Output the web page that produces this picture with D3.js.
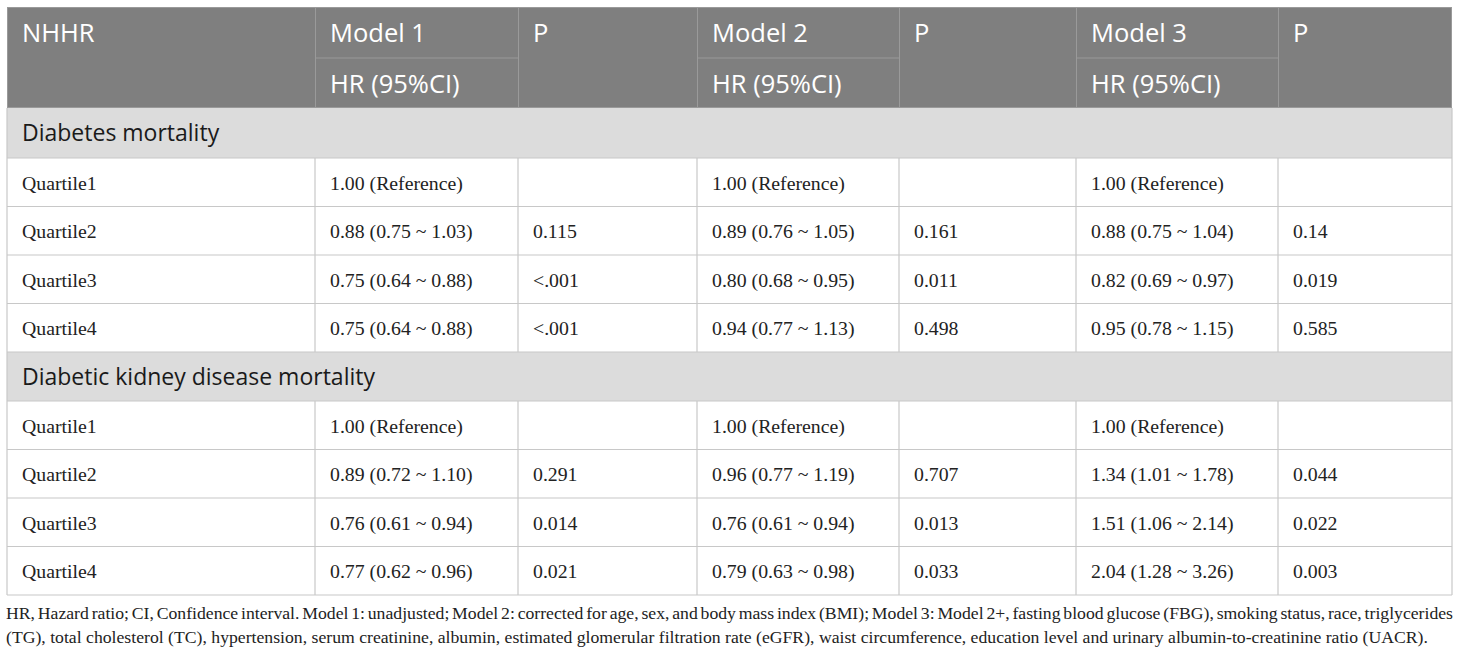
<!DOCTYPE html>
<html>
<head>
<meta charset="utf-8">
<script src="https://cdn.jsdelivr.net/npm/d3@7"></script>
<style>
  html, body { margin: 0; padding: 0; background: #fff; }
  svg { display: block; }
</style>
</head>
<body>
<svg id="canvas" width="1460" height="656"></svg>
<script>
// data
const headTop = ["NHHR", "Model 1", "P", "Model 2", "P", "Model 3", "P"];
const headSub = ["", "HR (95%CI)", "", "HR (95%CI)", "", "HR (95%CI)", ""];
const sections = ["Diabetes mortality", "Diabetic kidney disease mortality"];
const quartiles = ["Quartile1", "Quartile2", "Quartile3", "Quartile4"];

const diabHR = [
  ["1.00 (Reference)", "0.88 (0.75 ~ 1.03)", "0.75 (0.64 ~ 0.88)", "0.75 (0.64 ~ 0.88)"],
  ["1.00 (Reference)", "0.89 (0.76 ~ 1.05)", "0.80 (0.68 ~ 0.95)", "0.94 (0.77 ~ 1.13)"],
  ["1.00 (Reference)", "0.88 (0.75 ~ 1.04)", "0.82 (0.69 ~ 0.97)", "0.95 (0.78 ~ 1.15)"]
];
const diabP = [
  ["", "0.115", "<.001", "<.001"],
  ["", "0.161", "0.011", "0.498"],
  ["", "0.14", "0.019", "0.585"]
];
const dkdHR = [
  ["1.00 (Reference)", "0.89 (0.72 ~ 1.10)", "0.76 (0.61 ~ 0.94)", "0.77 (0.62 ~ 0.96)"],
  ["1.00 (Reference)", "0.96 (0.77 ~ 1.19)", "0.76 (0.61 ~ 0.94)", "0.79 (0.63 ~ 0.98)"],
  ["1.00 (Reference)", "1.34 (1.01 ~ 1.78)", "1.51 (1.06 ~ 2.14)", "2.04 (1.28 ~ 3.26)"]
];
const dkdP = [
  ["", "0.291", "0.014", "0.021"],
  ["", "0.707", "0.013", "0.033"],
  ["", "0.044", "0.022", "0.003"]
];
const footLines = [
  "HR, Hazard ratio; CI, Confidence interval. Model 1: unadjusted; Model 2: corrected for age, sex, and body mass index (BMI); Model 3: Model 2+, fasting blood glucose (FBG), smoking status, race, triglycerides",
  "(TG), total cholesterol (TC), hypertension, serum creatinine, albumin, estimated glomerular filtration rate (eGFR), waist circumference, education level and urinary albumin-to-creatinine ratio (UACR)."
];

// layout
const colEdges = [7, 315, 518, 697, 899, 1076, 1278, 1452];
const padX = 15;
const sans = "'Open Sans', 'Noto Sans', sans-serif";
const serif = "'Liberation Serif', 'Times New Roman', serif";

const svg = d3.select("#canvas");

// build row list
const rows = [];
rows.push({ type: "head", h: 50.5, cells: headTop });
rows.push({ type: "sub", h: 50.5, cells: headSub });
[[diabHR, diabP], [dkdHR, dkdP]].forEach(([hr, p], s) => {
  rows.push({ type: "section", h: s === 0 ? 50 : 49, label: sections[s] });
  quartiles.forEach((q, i) => {
    const cells = [q];
    for (let m = 0; m < 3; m++) cells.push(hr[m][i], p[m][i]);
    rows.push({ type: "data", h: 48.5, cells });
  });
});

let yAcc = 7;
rows.forEach(r => { r.y0 = yAcc; yAcc += r.h; r.y1 = yAcc; });
const tableBottom = yAcc;

const x = d3.scaleOrdinal().domain(d3.range(7)).range(colEdges.slice(0, 7));
const xEnd = d3.scaleOrdinal().domain(d3.range(7)).range(colEdges.slice(1));

const L = colEdges[0], R = colEdges[colEdges.length - 1];
const headH = rows[1].y1 - rows[0].y0;

// header background
svg.append("rect")
  .attr("x", L).attr("y", rows[0].y0)
  .attr("width", R - L).attr("height", headH)
  .attr("fill", "#7f7f7f");

// header grid lines
const hg = svg.append("g").attr("stroke", "#9a9a9a").attr("stroke-width", 1);
d3.range(1, 7).forEach(c => {
  hg.append("line").attr("x1", x(c) + 0.5).attr("x2", x(c) + 0.5)
    .attr("y1", rows[0].y0).attr("y2", rows[1].y1);
});
[1, 3, 5].forEach(c => {
  hg.append("line").attr("x1", x(c)).attr("x2", xEnd(c))
    .attr("y1", rows[0].y1 + 0.5).attr("y2", rows[0].y1 + 0.5);
});
hg.append("rect").attr("x", L + 0.5).attr("y", rows[0].y0 + 0.5)
  .attr("width", R - L - 1).attr("height", headH - 1).attr("fill", "none");

// header text
rows.slice(0, 2).forEach(r => {
  svg.append("g").selectAll("text")
    .data(r.cells)
    .join("text")
    .attr("x", (d, i) => x(i) + padX)
    .attr("y", r.y0 + 35)
    .attr("fill", "#fff")
    .attr("font-family", sans)
    .attr("font-size", 25.5)
    .text(d => d);
});

// body
const body = rows.slice(2);
body.forEach(r => {
  if (r.type === "section") {
    svg.append("rect").attr("x", L).attr("y", r.y0)
      .attr("width", R - L).attr("height", r.h).attr("fill", "#dcdcdc");
    svg.append("text")
      .attr("x", L + padX).attr("y", r.y0 + 33)
      .attr("fill", "#1a1a1a")
      .attr("font-family", sans).attr("font-size", 23)
      .text(r.label);
  } else {
    svg.append("g").selectAll("text")
      .data(r.cells)
      .join("text")
      .attr("x", (d, i) => x(i) + padX)
      .attr("y", r.y0 + 31.5)
      .attr("fill", "#222")
      .attr("font-family", serif)
      .attr("font-size", 19.8)
      .text(d => d);
  }
});

// body grid
const grid = svg.append("g").attr("stroke", "#c8c8c8").attr("stroke-width", 1.2).attr("fill", "none");
body.forEach(r => {
  grid.append("line").attr("x1", L).attr("x2", R).attr("y1", r.y1).attr("y2", r.y1);
  if (r.type === "data") {
    d3.range(1, 7).forEach(c => {
      grid.append("line").attr("x1", x(c)).attr("x2", x(c)).attr("y1", r.y0).attr("y2", r.y1);
    });
  }
});
grid.append("line").attr("x1", L).attr("x2", L).attr("y1", rows[2].y0).attr("y2", tableBottom);
grid.append("line").attr("x1", R).attr("x2", R).attr("y1", rows[2].y0).attr("y2", tableBottom);

// footnote, first line justified
const fnSize = 17.7;
const fn = svg.append("g").attr("font-family", serif).attr("font-size", fnSize).attr("fill", "#222");
const words = footLines[0].split(" ");
const wt = fn.selectAll("text.w").data(words).join("text").attr("class", "w").attr("y", 619).text(d => d);
const widths = [];
wt.each(function () { widths.push(this.getComputedTextLength()); });
const gap = (R + 1 - 6 - d3.sum(widths)) / (words.length - 1);
let cx = 6;
wt.attr("x", (d, i) => { const v = cx; cx += widths[i] + gap; return v; });

fn.append("text").attr("x", 6).attr("y", 643).text(footLines[1]);
</script>
</body>
</html>
